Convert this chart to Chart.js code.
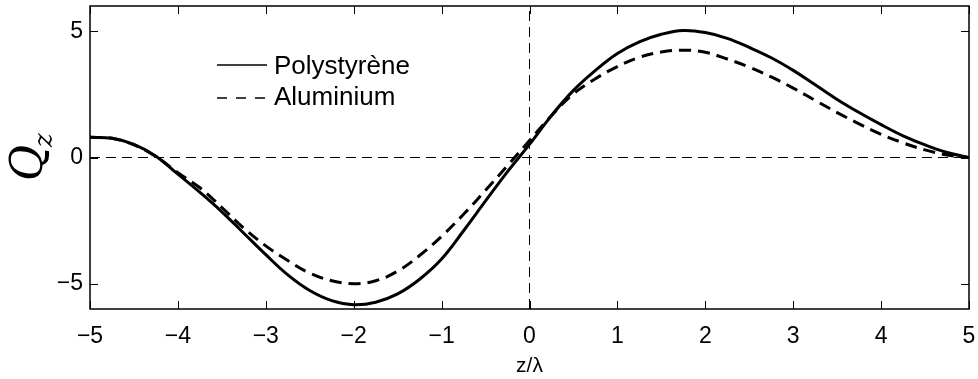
<!DOCTYPE html>
<html>
<head>
<meta charset="utf-8">
<script src="https://cdn.jsdelivr.net/npm/chart.js@4.4.0/dist/chart.umd.min.js"></script>
<style>
  html, body { margin: 0; padding: 0; background: #fff; }
  #contenedor { width: 978px; height: 379px; }
</style>
</head>
<body>
<div id="contenedor"><canvas id="grafico" width="978" height="379"></canvas></div>
<script>
// datos
const zLambda = [-5, -4.75, -4.5, -4.25, -4, -3.75, -3.5, -3.25, -3, -2.75, -2.5, -2.25, -2, -1.75, -1.5, -1.25, -1, -0.75, -0.5, -0.25,
  0, 0.25, 0.5, 0.75, 1, 1.25, 1.5, 1.75, 2, 2.25, 2.5, 2.75, 3, 3.25, 3.5, 3.75, 4, 4.25, 4.5, 4.75, 5];
const polystyrene = [0.80, 0.76, 0.52, 0.05, -0.66, -1.38, -2.15, -3.00, -3.85, -4.65, -5.27, -5.67, -5.83, -5.73, -5.40, -4.82, -4.02, -2.90, -1.72, -0.56,
  0.52, 1.66, 2.66, 3.45, 4.12, 4.58, 4.88, 5.03, 4.95, 4.72, 4.36, 3.95, 3.45, 2.88, 2.30, 1.78, 1.30, 0.86, 0.50, 0.20, 0.00];
const aluminium = [0.80, 0.76, 0.50, 0.04, -0.60, -1.20, -1.98, -2.80, -3.50, -4.08, -4.58, -4.88, -5.00, -4.88, -4.50, -3.88, -3.12, -2.25, -1.30, -0.32,
  0.67, 1.66, 2.52, 3.12, 3.60, 3.97, 4.18, 4.25, 4.17, 3.90, 3.58, 3.19, 2.75, 2.26, 1.78, 1.33, 0.92, 0.58, 0.30, 0.10, 0.00];
const ticksX = [-5, -4, -3, -2, -1, 0, 1, 2, 3, 4, 5];
const ticksY = [-5, 0, 5];
const etiquetas = ['Polystyrène', 'Aluminium'];

const fuente = 'Liberation Sans, Arial, Helvetica, sans-serif';

function puntos(valores) {
  return zLambda.map((z, i) => ({ x: z, y: valores[i] }));
}

function conMenos(v) {
  return v < 0 ? '\u2212' + Math.abs(v) : String(v);
}

// sin relleno extra por las etiquetas de los extremos
function sinRelleno(s) {
  s.paddingLeft = 0; s.paddingRight = 0; s.paddingTop = 0; s.paddingBottom = 0;
}

// recuadro y marcas hacia dentro (estilo matlab)
const marco = {
  id: 'marco',
  afterDatasetsDraw(chart) {
    const ctx = chart.ctx;
    const a = chart.chartArea;
    const sx = chart.scales.x, sy = chart.scales.y;
    const largo = 8;
    ctx.save();
    ctx.strokeStyle = '#000';
    ctx.lineWidth = 1;
    ctx.beginPath();
    ticksX.forEach(v => {
      const px = Math.round(sx.getPixelForValue(v)) + 0.5;
      ctx.moveTo(px, a.bottom); ctx.lineTo(px, a.bottom - largo);
      ctx.moveTo(px, a.top); ctx.lineTo(px, a.top + largo);
    });
    ticksY.forEach(v => {
      const py = Math.round(sy.getPixelForValue(v)) + 0.5;
      ctx.moveTo(a.left, py); ctx.lineTo(a.left + largo, py);
      ctx.moveTo(a.right, py); ctx.lineTo(a.right - largo, py);
    });
    ctx.stroke();
    ctx.lineWidth = 1.5;
    ctx.strokeRect(a.left, a.top, a.right - a.left, a.bottom - a.top);
    ctx.restore();
  }
};

// leyenda dentro del area del grafico
const leyenda = {
  id: 'leyenda',
  afterDraw(chart) {
    const ctx = chart.ctx;
    ctx.save();
    ctx.font = '26px ' + fuente;
    ctx.fillStyle = '#000';
    ctx.textBaseline = 'alphabetic';
    etiquetas.forEach((texto, i) => {
      const ds = chart.data.datasets[i];
      const base = 74 + i * 31;
      const yl = 65 + i * 33;
      ctx.strokeStyle = '#000';
      ctx.lineWidth = 1.3;
      ctx.setLineDash(i === 1 ? [10, 9] : []);
      ctx.beginPath();
      ctx.moveTo(217, yl);
      ctx.lineTo(267, yl);
      ctx.stroke();
      ctx.setLineDash([]);
      ctx.fillText(ds.label, 274, base);
    });
    ctx.restore();
  }
};

// titulo del eje y: Q con subindice z
const tituloY = {
  id: 'tituloY',
  afterDraw(chart) {
    const ctx = chart.ctx;
    ctx.save();
    ctx.translate(42, 156);
    ctx.rotate(-Math.PI / 2);
    ctx.fillStyle = '#000';
    ctx.textBaseline = 'alphabetic';
    ctx.font = 'italic 44px "DejaVu Serif", serif';
    const wQ = ctx.measureText('Q').width;
    const wz = 14;
    const x0 = -(wQ + wz) / 2;
    ctx.fillText('Q', x0, 0);
    ctx.font = 'italic 26px "DejaVu Serif", serif';
    ctx.fillText('z', x0 + wQ - 2, 10);
    ctx.restore();
  }
};

const ctx = document.getElementById('grafico').getContext('2d');
const grafico = new Chart(ctx, {
  type: 'line',
  data: {
    datasets: [
      {
        label: etiquetas[0],
        data: puntos(polystyrene),
        borderColor: '#000',
        borderWidth: 3,
        pointRadius: 0,
        tension: 0.4,
        order: 0
      },
      {
        label: etiquetas[1],
        data: puntos(aluminium),
        borderColor: '#000',
        borderWidth: 3,
        borderDash: [12, 7],
        pointRadius: 0,
        tension: 0.4,
        order: 0
      },
      {
        label: 'cero',
        data: [{ x: -5, y: 0 }, { x: 5, y: 0 }],
        borderColor: '#000',
        borderWidth: 1,
        borderDash: [10, 6],
        pointRadius: 0,
        order: 1
      },
      {
        label: 'origen',
        data: [{ x: 0, y: -6 }, { x: 0, y: 6 }],
        borderColor: '#000',
        borderWidth: 1,
        borderDash: [10, 6],
        pointRadius: 0,
        order: 1
      }
    ]
  },
  options: {
    responsive: false,
    animation: false,
    devicePixelRatio: 1,
    layout: { padding: { top: 6, right: 9, left: 0, bottom: 0 } },
    plugins: {
      legend: { display: false },
      tooltip: { enabled: false }
    },
    scales: {
      x: {
        type: 'linear',
        min: -5,
        max: 5,
        afterBuildTicks: s => { s.ticks = ticksX.map(v => ({ value: v })); },
        afterFit: s => { s.height = 70; sinRelleno(s); },
        grid: { display: false, drawTicks: false },
        border: { display: false },
        ticks: {
          color: '#000',
          padding: 14,
          maxRotation: 0,
          font: { family: fuente, size: 23 },
          callback: v => conMenos(v)
        },
        title: {
          display: true,
          text: 'z/λ',
          color: '#000',
          font: { family: fuente, size: 21 },
          padding: { top: 0, bottom: 0 }
        }
      },
      y: {
        type: 'linear',
        min: -6,
        max: 6,
        afterBuildTicks: s => { s.ticks = ticksY.map(v => ({ value: v })); },
        afterFit: s => { s.width = 90; sinRelleno(s); },
        grid: { display: false, drawTicks: false },
        border: { display: false },
        ticks: {
          color: '#000',
          padding: 7,
          font: { family: fuente, size: 23 },
          callback: v => conMenos(v)
        }
      }
    }
  },
  plugins: [marco, leyenda, tituloY]
});
</script>
</body>
</html>
